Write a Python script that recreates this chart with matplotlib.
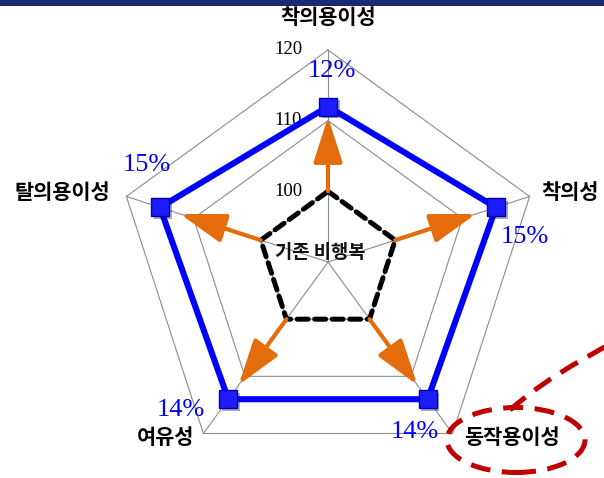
import numpy as np
import matplotlib.pyplot as plt
import matplotlib.patheffects as pe
from matplotlib.patches import Ellipse, Rectangle, PathPatch
from matplotlib.path import Path

# 데이터
categories = ['착의용이성', '착의성', '동작용이성', '여유성', '탈의용이성']
baseline = [100, 100, 100, 100, 100]          # 기존 비행복
improved = [112, 115, 114, 114, 115]          # 개선 비행복
arrow_tip = [110.5, 112, 111.5, 111.5, 112]   # 화살표 끝
pct_labels = ['12%', '15%', '14%', '14%', '15%']
grid_levels = [100, 110, 120]
r_min, r_max = 90, 120

n = len(categories)
theta = np.arange(n) * 2 * np.pi / n
theta_c = np.append(theta, theta[0])

W, H = 604, 478
fig = plt.figure(figsize=(W / 100, H / 100), dpi=100)
ax = fig.add_axes([116 / W, 4 / H, 424 / W, 424 / H], projection='polar')
ax.set_theta_offset(np.pi / 2)
ax.set_theta_direction(-1)
ax.set_ylim(r_min, r_max)
ax.axis('off')

# 격자 (오각형)
for lv in grid_levels:
    ax.plot(theta_c, [lv] * (n + 1), color='#8c8c8c', lw=0.8, zorder=1, clip_on=False)
for t in theta:
    ax.plot([t, t], [r_min, r_max], color='#8c8c8c', lw=0.8, zorder=1, clip_on=False)

# 눈금 라벨
for lv in grid_levels:
    ax.annotate(str(lv), xy=(0, lv), xytext=(-40, 0), textcoords='offset pixels',
                ha='center', va='center', fontsize=13.5, family='Liberation Serif',
                color='black', annotation_clip=False)

# 기존 비행복 (점선)
ax.plot(theta_c, baseline + baseline[:1], color='black', lw=3.6,
        dashes=(2.2, 1.3), dash_capstyle='round', zorder=2, clip_on=False)

# 화살표
for t, b, e in zip(theta, baseline, arrow_tip):
    ax.annotate('', xy=(t, e), xytext=(t, b),
                arrowprops=dict(arrowstyle='-|>,head_length=2.8,head_width=0.9',
                                mutation_scale=10, lw=3, color='#E46C0A',
                                shrinkA=0, shrinkB=0),
                zorder=3, annotation_clip=False)

# 개선 결과 (파란선)
ax.plot(theta_c, improved + improved[:1], color='#0000FF', lw=4.4, zorder=4,
        solid_joinstyle='miter', clip_on=False)
ax.plot(theta, improved, ls='none', marker='s', ms=13, mfc='#1c1cff', mec='#0000a8',
        mew=1, zorder=5, clip_on=False,
        path_effects=[pe.SimplePatchShadow(offset=(2, -2), alpha=0.35), pe.Normal()])

# 퍼센트 라벨
pct_off = [(4, 36), (29, -30), (-13, -33), (-48, -11), (-13, 42)]
for t, v, s, off in zip(theta, improved, pct_labels, pct_off):
    ax.annotate(s, xy=(t, v), xytext=off, textcoords='offset pixels',
                ha='center', va='center', fontsize=19, family='Liberation Serif',
                color='#0000FF', annotation_clip=False)

# 항목 라벨
cat_off = [(0, 32), (40, 4), (59, -4), (-38, -4), (-64, 4)]
for t, c, off in zip(theta, categories, cat_off):
    ax.annotate(c, xy=(t, r_max), xytext=off, textcoords='offset pixels',
                ha='center', va='center', fontsize=15, fontweight='bold',
                family='Noto Sans CJK KR', color='black', annotation_clip=False)

# 중앙 라벨
ax.annotate('기존 비행복', xy=(0, r_min), xytext=(-8, 10), textcoords='offset pixels',
            ha='center', va='center', fontsize=13.5, fontweight='bold',
            family='Noto Sans CJK KR', color='#111111', annotation_clip=False, zorder=6)

# 강조 표시 (빨간 점선)
red = '#C00000'
fig.add_artist(Ellipse((516 / W, 1 - 440 / H), 138 / W, 65 / H, transform=fig.transFigure,
                       fill=False, ec=red, lw=3.6, ls=(0, (4, 2.3))))
pts = [(510, 410), (548, 376), (618, 340)]
verts = [(x / W, 1 - y / H) for x, y in pts]
curve = Path(verts, [Path.MOVETO, Path.CURVE3, Path.CURVE3])
fig.add_artist(PathPatch(curve, transform=fig.transFigure, fill=False, ec=red,
                         lw=3.6, ls=(0, (4, 2.3))))

# 상단 바
fig.add_artist(Rectangle((0, 1 - 6 / H), 1, 6 / H, transform=fig.transFigure,
                         color='#1a2a6e', lw=0))

fig.savefig('out.png', dpi=100)
